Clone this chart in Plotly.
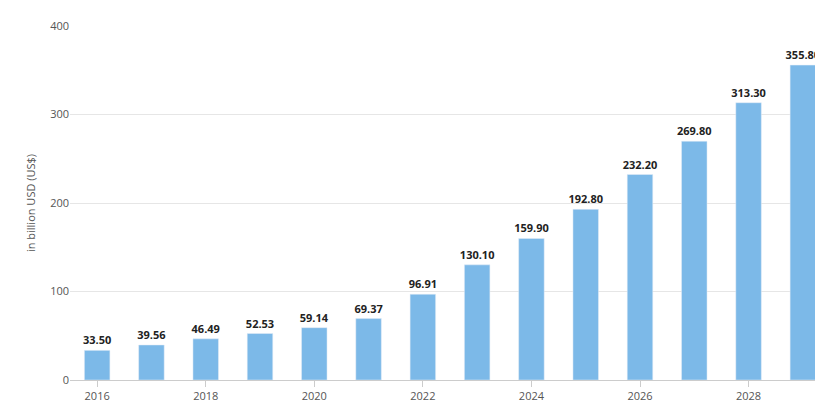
import plotly.graph_objects as go

years = [str(y) for y in range(2016, 2030)]
values = [33.50, 39.56, 46.49, 52.53, 59.14, 69.37, 96.91, 130.10, 159.90, 192.80, 232.20, 269.80, 313.30, 355.80]
labels = [f"{v:.2f}" for v in values]
tick_years = ["2016", "2018", "2020", "2022", "2024", "2026", "2028"]

fig = go.Figure()
fig.add_trace(go.Bar(
    x=years, y=values, text=labels, textposition="outside", textangle=0,
    constraintext="none",
    textfont=dict(size=11, color="#222", family="Open Sans", weight="bold"),
    marker_color="#7cb9e8", cliponaxis=False,
))
fig.update_layout(
    width=823, height=416,
    margin=dict(l=62, r=1, t=18, b=44, autoexpand=False),
    plot_bgcolor="white", paper_bgcolor="white",
    font=dict(family="Open Sans", size=11, color="#555"),
    bargap=0.53, showlegend=False,
    uniformtext=dict(minsize=11, mode="show"),
    xaxis=dict(tickmode="array", tickvals=tick_years, ticktext=tick_years,
               showline=True, linecolor="#ccc", ticks="outside", tickcolor="#ccc",
               ticklen=6, automargin=False),
    yaxis=dict(range=[0, 400], dtick=100, gridcolor="#e6e6e6", zeroline=False,
               automargin=False,
               title=dict(text="in billion USD (US$)", standoff=12, font=dict(size=11))),
)
fig.write_html("out.html")
